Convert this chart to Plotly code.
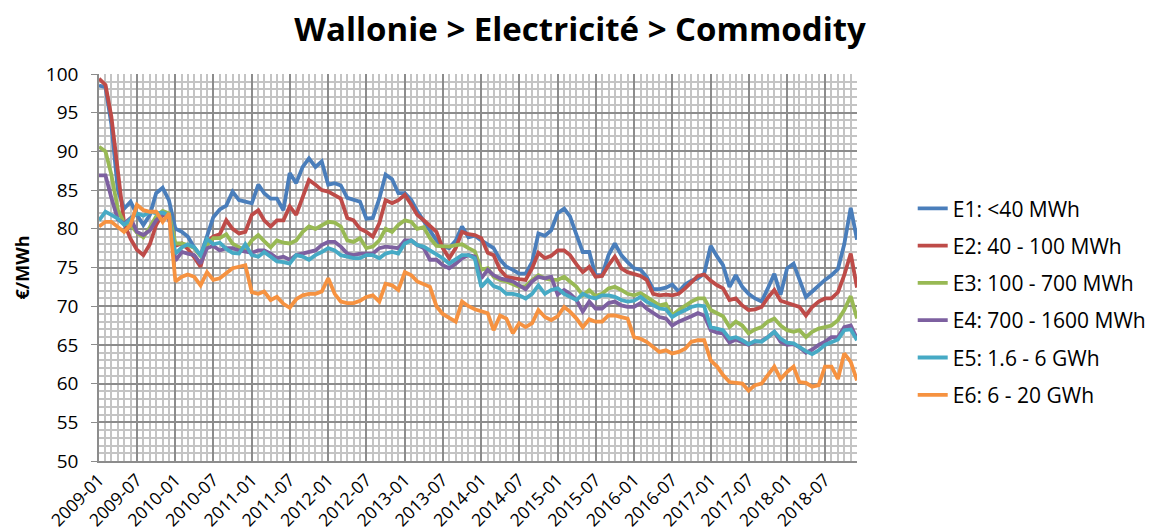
import pandas as pd
import plotly.graph_objects as go

# mois (axe des catégories)
months = pd.date_range("2009-01-01", "2018-12-01", freq="MS")

labels = [
    "E1: &lt;40 MWh",
    "E2: 40 - 100 MWh",
    "E3: 100 - 700 MWh",
    "E4: 700 - 1600 MWh",
    "E5: 1.6 - 6 GWh",
    "E6: 6 - 20 GWh",
]

e1 = [98.5, 98.3, 93.5, 85.0, 82.6, 83.5, 81.8, 80.5, 81.8, 84.6,
      85.3, 83.7, 80.0, 79.6, 79.0, 77.6, 76.5, 79.0, 81.5, 82.5,
      83.0, 84.8, 83.7, 83.5, 83.3, 85.7, 84.6, 83.9, 83.9, 82.4,
      87.2, 85.9, 88.0, 89.1, 88.0, 88.7, 85.7, 85.9, 85.6, 84.0,
      83.7, 83.5, 81.3, 81.4, 83.9, 87.0, 86.4, 84.6, 84.6, 83.7,
      82.3, 81.0, 79.8, 78.5, 77.7, 77.5, 78.5, 80.3, 78.9, 79.1,
      78.5, 77.9, 77.5, 76.0, 75.1, 74.7, 74.2, 74.2, 75.7, 79.4,
      79.1, 79.8, 82.0, 82.6, 81.6, 79.2, 77.0, 77.0, 74.0, 74.0,
      76.6, 78.1, 76.6, 75.7, 74.9, 74.7, 73.8, 72.2, 72.2, 72.4,
      72.8, 71.9, 72.8, 73.3, 73.6, 74.2, 77.8, 76.4, 75.3, 72.5,
      74.0, 72.5, 71.6, 71.0, 70.6, 72.3, 74.2, 71.5, 74.9, 75.5,
      73.3, 71.2, 71.9, 72.7, 73.4, 74.0, 74.8, 78.0, 82.7, 78.6]

e2 = [99.4, 98.6, 94.5, 87.0, 80.7, 78.7, 77.3, 76.6, 78.0, 80.5,
      81.9, 81.3, 77.8, 78.1, 77.4, 76.3, 75.1, 78.3, 79.0, 79.3,
      81.1, 80.0, 79.4, 79.6, 81.8, 82.4, 81.1, 80.3, 81.1, 81.1,
      82.9, 81.8, 84.1, 86.3, 85.7, 85.0, 84.8, 84.4, 83.9, 81.4,
      81.1, 80.0, 79.6, 79.0, 80.7, 83.7, 83.3, 83.7, 84.4, 83.1,
      81.8, 81.1, 80.3, 79.6, 77.5, 76.2, 77.5, 79.6, 79.3, 79.2,
      78.8, 76.9, 76.6, 74.7, 73.8, 73.6, 73.5, 73.4, 74.9, 76.9,
      76.2, 76.5, 77.2, 77.2, 76.6, 75.4, 74.4, 75.1, 73.8, 73.9,
      75.3, 76.4, 74.9, 74.4, 74.2, 73.9, 73.4, 71.6, 71.4, 71.5,
      71.4, 71.6, 72.3, 73.1, 73.9, 74.1, 73.3, 72.7, 72.3, 70.8,
      71.0, 70.1, 69.5, 69.6, 69.9, 71.1, 72.1, 70.7, 70.4, 70.2,
      69.9, 68.8, 69.9, 70.6, 71.0, 71.0, 71.8, 74.0, 76.8, 72.4]

e3 = [90.6, 90.0, 87.0, 82.5, 80.7, 80.5, 79.5, 78.9, 80.2, 81.6,
      82.3, 82.0, 78.1, 78.1, 77.9, 77.5, 76.5, 77.9, 78.8, 78.8,
      79.3, 78.1, 77.6, 77.3, 78.5, 79.2, 78.4, 77.6, 78.5, 78.2,
      78.1, 78.5, 79.6, 80.3, 80.0, 80.5, 80.9, 80.8, 80.3, 78.5,
      78.3, 78.8, 77.5, 77.7, 78.5, 80.0, 79.6, 80.5, 81.1, 80.9,
      80.0, 80.2, 78.8, 77.8, 77.7, 77.7, 77.9, 78.0, 77.5, 77.1,
      74.7, 74.9, 73.8, 73.4, 73.2, 72.9, 72.5, 72.6, 73.4, 74.0,
      73.6, 73.4, 73.4, 73.8, 73.2, 72.5, 71.4, 72.1, 71.3, 71.6,
      72.3, 72.5, 72.1, 71.6, 71.4, 71.7, 71.2, 70.7, 70.1, 70.3,
      68.8, 69.5, 70.1, 70.6, 71.0, 71.0, 69.5, 69.1, 68.7, 67.3,
      68.0, 67.5, 66.5, 67.0, 67.3, 68.0, 68.4, 67.5, 66.9, 66.7,
      66.9, 66.0, 66.7, 67.1, 67.3, 67.5, 68.2, 69.5, 71.3, 68.4]

e4 = [86.9, 86.9, 84.0, 81.2, 80.7, 81.4, 79.6, 79.2, 79.8, 81.1,
      81.9, 81.7, 75.9, 77.0, 76.8, 76.6, 75.5, 77.5, 77.8, 77.2,
      77.5, 77.5, 77.2, 77.0, 76.9, 77.2, 77.2, 76.8, 76.2, 76.4,
      76.0, 76.6, 76.8, 76.9, 77.2, 77.9, 78.3, 78.3, 77.7, 76.8,
      76.6, 76.8, 76.8, 76.8, 77.5, 77.7, 77.6, 77.5, 78.5, 78.5,
      77.9, 77.5, 76.0, 76.0, 75.3, 74.9, 75.5, 76.2, 76.6, 76.4,
      73.6, 74.7, 74.0, 73.6, 73.4, 73.2, 72.7, 72.2, 73.2, 73.8,
      73.6, 73.8, 71.5, 72.1, 71.6, 70.8, 69.3, 70.6, 69.7, 69.7,
      70.4, 70.6, 70.1, 69.9, 69.9, 70.4, 69.7, 69.1, 68.6, 68.4,
      67.5, 68.0, 68.3, 68.7, 69.1, 68.8, 66.9, 66.6, 66.5, 65.3,
      65.7, 65.4, 65.0, 65.4, 65.5, 66.0, 66.7, 65.4, 65.0, 65.1,
      64.7, 64.0, 64.4, 65.0, 65.4, 66.0, 66.0, 67.3, 67.5, 65.8]

e5 = [81.1, 82.2, 81.8, 81.3, 80.5, 81.3, 82.0, 81.7, 82.2, 82.0,
      82.1, 81.7, 76.8, 77.6, 78.0, 77.6, 76.6, 78.7, 78.0, 78.2,
      77.4, 76.9, 76.8, 78.0, 76.6, 76.4, 77.0, 76.4, 75.8, 75.7,
      75.5, 76.6, 76.4, 76.0, 76.6, 77.0, 77.5, 77.2, 76.6, 76.4,
      76.2, 76.2, 76.6, 76.6, 76.2, 76.8, 77.0, 76.8, 78.1, 78.5,
      77.9, 77.7, 77.2, 76.8, 76.2, 75.5, 76.0, 76.6, 76.6, 76.2,
      72.5, 73.4, 72.6, 72.3, 71.6, 71.6, 71.4, 71.0, 71.6, 72.7,
      71.6, 72.1, 72.3, 71.6, 71.2, 70.8, 71.6, 71.2, 71.0, 71.4,
      71.4, 71.2, 70.8, 70.6, 70.7, 71.2, 70.6, 70.1, 69.7, 69.6,
      68.6, 69.1, 69.5, 69.9, 70.1, 70.0, 67.3, 67.1, 66.9, 65.8,
      66.0, 65.6, 65.1, 65.5, 65.4, 66.0, 66.7, 65.8, 65.3, 65.2,
      64.7, 64.2, 63.8, 64.3, 65.0, 65.4, 65.7, 66.9, 67.0, 65.6]

e6 = [80.3, 80.9, 80.9, 80.3, 79.6, 80.5, 83.1, 82.4, 82.2, 82.2,
      80.9, 82.0, 73.2, 73.8, 74.1, 73.8, 72.7, 74.4, 73.4, 73.6,
      74.2, 74.9, 75.1, 75.3, 71.8, 71.6, 71.9, 70.8, 71.2, 70.3,
      69.8, 70.9, 71.4, 71.6, 71.6, 71.9, 73.6, 71.6, 70.6, 70.4,
      70.4, 70.7, 71.2, 71.4, 70.6, 72.9, 72.7, 72.1, 74.4, 74.0,
      73.2, 72.9, 72.5, 70.0, 69.0, 68.5, 68.0, 70.6, 70.0, 69.6,
      69.3, 69.1, 66.9, 68.8, 68.4, 66.5, 67.8, 67.3, 67.8, 69.5,
      68.6, 68.2, 68.7, 69.9, 69.3, 68.4, 67.3, 68.3, 68.0, 68.0,
      68.8, 68.8, 68.6, 68.4, 66.0, 65.8, 65.4, 64.7, 64.1, 64.3,
      63.9, 64.1, 64.5, 65.4, 65.6, 65.6, 63.0, 62.2, 61.1, 60.2,
      60.1, 60.0, 59.1, 59.8, 60.0, 61.1, 62.2, 60.6, 61.5, 62.2,
      60.2, 60.1, 59.6, 59.8, 62.2, 62.2, 60.6, 63.9, 62.8, 60.4]

colors = ["#4A7EBB", "#BE4B48", "#98B954", "#7D60A0", "#46AAC5", "#F69240"]

FONT = "Open Sans"

fig = go.Figure()
for i, (name, vals) in enumerate(zip(labels, [e1, e2, e3, e4, e5, e6])):
    fig.add_trace(go.Scatter(
        x=months, y=vals, name=name, mode="lines",
        line=dict(color=colors[i], width=3.8),
        legendgroup=f"g{i}",
    ))

fig.update_layout(
    width=1160, height=528,
    paper_bgcolor="white", plot_bgcolor="white",
    margin=dict(l=99, r=303, t=74, b=67, autoexpand=False),
    title=dict(text="Wallonie > Electricité > Commodity", x=0.5, xanchor="center",
               y=0.945, yanchor="middle",
               font=dict(family=FONT, size=33, color="black", weight="bold")),
    legend=dict(x=1.0735, xanchor="left", y=0.705, yanchor="top",
                font=dict(family=FONT, size=21, color="black"),
                tracegroupgap=7, bgcolor="rgba(0,0,0,0)"),
    font=dict(family=FONT, color="black"),
)

fig.update_xaxes(
    type="date", range=[months[0], months[-1]], automargin=False,
    dtick="M6", tick0="2009-01-01", tickformat="%Y-%m", tickangle=-45,
    tickfont=dict(family=FONT, size=17.5, color="black"),
    showgrid=True, gridcolor="#8c8c8c", gridwidth=1.5,
    minor=dict(dtick="M1", showgrid=True, gridcolor="#c4c4c4", gridwidth=1.5,
               ticks=""),
    showline=True, linecolor="#8c8c8c", linewidth=1.5,
    ticks="", zeroline=False,
)

fig.update_yaxes(
    range=[50, 100], dtick=5, tick0=50, automargin=False,
    tickfont=dict(family=FONT, size=19, color="black"),
    ticklabelstandoff=9,
    showgrid=True, gridcolor="#8c8c8c", gridwidth=1.5,
    minor=dict(dtick=1, showgrid=True, gridcolor="#c4c4c4", gridwidth=1.5,
               ticks=""),
    showline=True, linecolor="#8c8c8c", linewidth=1.5,
    ticks="outside", ticklen=6, tickcolor="#8c8c8c", zeroline=False,
    title=dict(text="€/MWh", standoff=12,
               font=dict(family=FONT, size=18, color="black", weight="bold")),
)

# la page html ajoute 8px de marge autour du graphique : on la retire
fig.write_html("out.html", config={"displayModeBar": False},
               post_script="document.body.style.margin = '0';")
